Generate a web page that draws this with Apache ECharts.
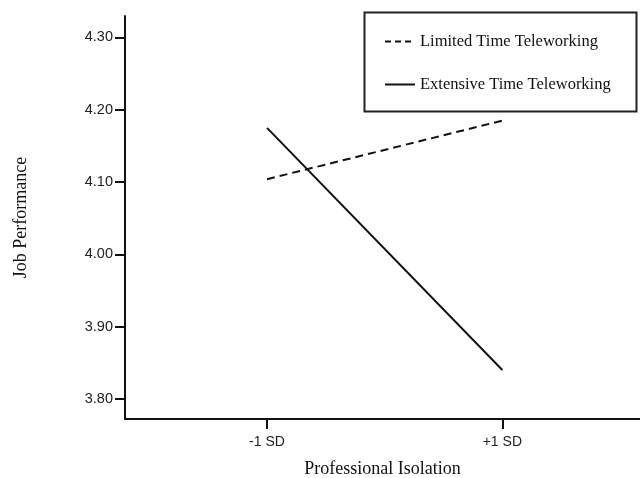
<!DOCTYPE html>
<html>
<head>
<meta charset="utf-8">
<script src="https://cdn.jsdelivr.net/npm/echarts@6/dist/echarts.min.js"></script>
<style>
  html, body { margin: 0; padding: 0; background: #fff; }
  #chart { width: 640px; height: 478px; }
</style>
</head>
<body>
<div id="chart"></div>
<script>
// Professional isolation (in SD units) vs. job performance, by teleworking extent
const isolationLevels = [-1, 1];
const isolationLabels = ['-1 SD', '+1 SD'];
const limitedTime = [4.104, 4.185];
const extensiveTime = [4.175, 3.840];
const yTicks = [3.80, 3.90, 4.00, 4.10, 4.20, 4.30];
const seriesNames = ['Limited Time Teleworking', 'Extensive Time Teleworking'];

const ink = '#111';
const serif = '"Liberation Serif", "Times New Roman", serif';
const sans = '"Liberation Sans", Arial, sans-serif';

function pairs(xs, ys) {
  return xs.map((x, i) => [x, ys[i]]);
}

const chart = echarts.init(document.getElementById('chart'));
chart.setOption({
  animation: false,
  backgroundColor: '#fff',
  grid: { left: 125, right: 0, top: 16, bottom: 59, outerBoundsMode: 'none' },
  xAxis: {
    type: 'value',
    min: -2.207,
    max: 2.170,
    name: 'Professional Isolation',
    nameLocation: 'middle',
    nameGap: 41,
    nameTextStyle: { fontFamily: serif, fontSize: 18, color: ink },
    axisLine: { onZero: false, lineStyle: { color: ink, width: 2 } },
    axisTick: { show: true, length: 10, lineStyle: { color: ink, width: 2 }, customValues: isolationLevels },
    axisLabel: {
      customValues: isolationLevels,
      margin: 16,
      fontFamily: sans, fontSize: 14, color: '#222',
      formatter: v => isolationLabels[isolationLevels.indexOf(v)]
    },
    splitLine: { show: false }
  },
  yAxis: {
    type: 'value',
    min: 3.7723,
    max: 4.3297,
    name: 'Job Performance',
    nameLocation: 'middle',
    nameGap: 95,
    nameTextStyle: { fontFamily: serif, fontSize: 18, color: ink },
    axisLine: { show: true, onZero: false, lineStyle: { color: ink, width: 2 } },
    axisTick: { show: true, length: 10, lineStyle: { color: ink, width: 2 }, customValues: yTicks },
    axisLabel: {
      customValues: yTicks,
      margin: 12,
      fontFamily: sans, fontSize: 14.5, color: '#222',
      formatter: v => v.toFixed(2)
    },
    splitLine: { show: false }
  },
  legend: {
    left: 379,
    top: 28,
    orient: 'vertical',
    itemWidth: 30,
    itemHeight: 14,
    itemGap: 26,
    itemStyle: { opacity: 0 },
    textStyle: { fontFamily: serif, fontSize: 16.5, color: ink },
    data: [
      { name: seriesNames[0], lineStyle: { type: [6, 4] } },
      { name: seriesNames[1] }
    ]
  },
  graphic: [{
    type: 'rect',
    shape: { x: 364.5, y: 12.5, width: 272, height: 99 },
    style: { fill: 'none', stroke: '#222', lineWidth: 2 },
    silent: true
  }],
  series: [
    {
      name: seriesNames[0],
      type: 'line',
      data: pairs(isolationLevels, limitedTime),
      symbol: 'none',
      lineStyle: { color: ink, width: 2, type: [8, 5] },
      itemStyle: { color: ink }
    },
    {
      name: seriesNames[1],
      type: 'line',
      data: pairs(isolationLevels, extensiveTime),
      symbol: 'none',
      lineStyle: { color: ink, width: 2, type: 'solid' },
      itemStyle: { color: ink }
    }
  ]
});
</script>
</body>
</html>
